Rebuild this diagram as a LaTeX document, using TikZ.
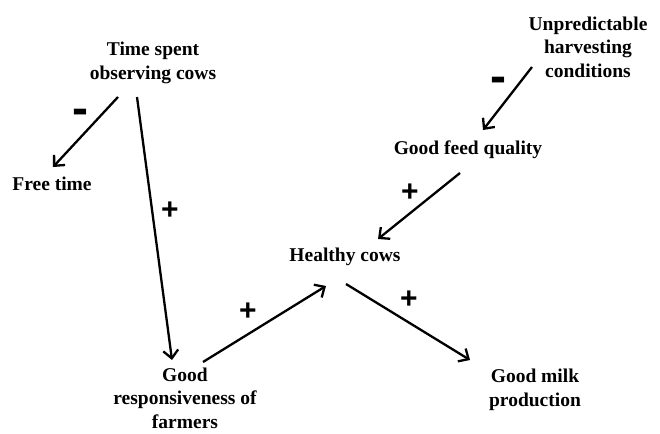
\documentclass[tikz,border=0pt]{standalone}
\usepackage{fontspec}
\setmainfont{Liberation Serif}
\newfontfamily\signfont{Liberation Sans}
\usetikzlibrary{arrows.meta}

\begin{document}
\begin{tikzpicture}[
  x=1pt,
  y=-1pt,
  factor/.style={
    align=center,
    inner sep=0pt,
    font=\fontsize{19.5}{23.5}\selectfont\bfseries
  },
  link/.style={
    draw,
    line width=2.3pt,
    -{Straight Barb[length=8pt,width=15pt,line width=2.3pt]}
  },
  plus/.style={
    inner sep=0pt,
    font=\signfont\fontsize{30}{30}\selectfont\bfseries
  },
  minus/.style={
    inner sep=0pt,
    font=\signfont\fontsize{48}{48}\selectfont\bfseries
  },
]
\useasboundingbox (0,0) rectangle (660,433);
\node[factor] (time) at (153,63) {Time spent\\observing cows};
\node[factor] (free) at (52,184) {Free time};
\node[factor] (weather) at (588,47) {Unpredictable\\harvesting\\conditions};
\node[factor] (feed) at (468,150) {Good feed quality};
\node[factor] (healthy) at (345,257) {Healthy cows};
\node[factor] (farmers) at (185,398) {Good\\responsiveness of\\farmers};
\node[factor] (milk) at (535,390) {Good milk\\production};

\draw[link] ([shift={(-35,34)}]time.center) -- ([shift={(1,-17)}]free.center);
\draw[link] ([shift={(-16,34)}]time.center) -- ([shift={(-13,-38)}]farmers.center);
\draw[link] ([shift={(-56,20)}]weather.center) -- ([shift={(15,-20)}]feed.center);
\draw[link] ([shift={(-8,23)}]feed.center) -- ([shift={(33,-18)}]healthy.center);
\draw[link] ([shift={(18,-36)}]farmers.center) -- ([shift={(-19,29)}]healthy.center);
\draw[link] ([shift={(1,27)}]healthy.center) -- ([shift={(-65,-30)}]milk.center);

\node[minus] (m1) at (80,117) {-};
\node[plus] (p1) at (170,211) {+};
\node[minus] (m2) at (498,85) {-};
\node[plus] (p2) at (410,193) {+};
\node[plus] (p3) at (248,312) {+};
\node[plus] (p4) at (409,300) {+};
\end{tikzpicture}
\end{document}
